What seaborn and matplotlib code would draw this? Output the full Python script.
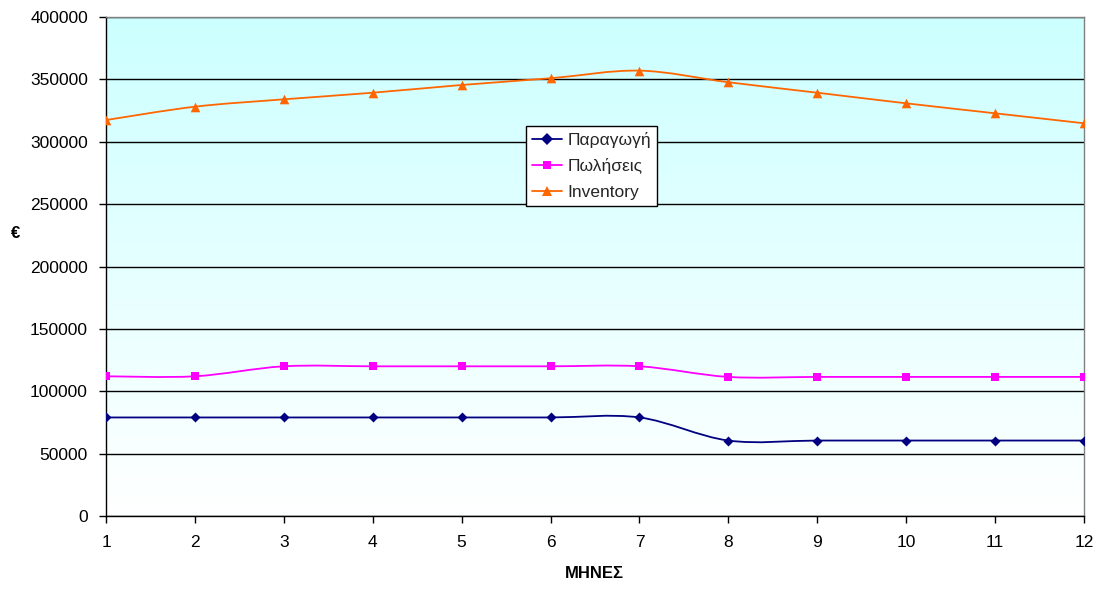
import numpy as np
import matplotlib
matplotlib.use("Agg")
import matplotlib.pyplot as plt
import seaborn as sns
from matplotlib.path import Path
from matplotlib.patches import PathPatch
from matplotlib.lines import Line2D
from matplotlib.colors import LinearSegmentedColormap

# Monthly figures (€)
months = [1, 2, 3, 4, 5, 6, 7, 8, 9, 10, 11, 12]
production = [79000, 79000, 79000, 79000, 79000, 79000, 79000,
              60500, 60500, 60500, 60500, 60500]
sales = [112000, 112000, 120000, 120000, 120000, 120000, 120000,
         111500, 111500, 111500, 111500, 111500]
inventory = [317400, 328100, 334000, 339300, 345500, 350900, 357000,
             347700, 339300, 330800, 322800, 314800]

series_names = ["Παραγωγή", "Πωλήσεις", "Inventory"]
series_colors = ["#000080", "#FF00FF", "#FF6600"]
series_markers = ["D", "s", "^"]
series_sizes = [26, 34, 48]

sns.set_theme(style="white")
plt.rcParams["font.family"] = ["Liberation Sans", "DejaVu Sans"]

fig = plt.figure(figsize=(11.02, 5.9), dpi=100)
ax = fig.add_axes([0.0962, 0.1254, 0.8875, 0.8458])

# vertical gradient fill of the plot area
cmap = LinearSegmentedColormap.from_list("bg", ["#FFFFFF", "#CCFFFF"])
grad = np.linspace(0, 1, 256).reshape(-1, 1)
ax.imshow(grad, cmap=cmap, aspect="auto", extent=(1, 12, 0, 400000),
          origin="lower", zorder=-2)


def smooth_path(xs, ys):
    """Cubic Bezier path through the points (Catmull-Rom style tangents)."""
    pts = np.column_stack([xs, ys]).astype(float)
    n = len(pts)
    verts = [pts[0]]
    codes = [Path.MOVETO]
    for i in range(n - 1):
        p0 = pts[i - 1] if i > 0 else pts[i]
        p1 = pts[i]
        p2 = pts[i + 1]
        p3 = pts[i + 2] if i + 2 < n else pts[i + 1]
        c1 = p1 + (p2 - p0) / 6.0
        c2 = p2 - (p3 - p1) / 6.0
        verts += [c1, c2, p2]
        codes += [Path.CURVE4] * 3
    return Path(verts, codes)


handles = []
for vals, name, col, mk, sz in zip([production, sales, inventory], series_names,
                                   series_colors, series_markers, series_sizes):
    ax.add_patch(PathPatch(smooth_path(months, vals), fill=False,
                           edgecolor=col, lw=1.3, zorder=2))
    sns.scatterplot(x=months, y=vals, marker=mk, color=col, s=sz,
                    edgecolor=col, linewidth=0, ax=ax, zorder=3, legend=False)
    handles.append(Line2D([0], [0], color=col, lw=1.3, marker=mk,
                          markersize=6 if mk != "^" else 7, markeredgewidth=0))

ax.set_xlim(1, 12)
ax.set_ylim(0, 400000)
ax.set_xticks(months)
ax.set_xticklabels([str(m) for m in months])
yt = list(range(0, 400001, 50000))
ax.set_yticks(yt)
ax.set_yticklabels([str(v) for v in yt])

ax.grid(axis="y", color="black", lw=1.0)
ax.grid(axis="x", visible=False)
ax.set_axisbelow(True)

for side in ["left", "bottom"]:
    ax.spines[side].set_color("black")
    ax.spines[side].set_linewidth(1.0)
for side in ["top", "right"]:
    ax.spines[side].set_color("#808080")
    ax.spines[side].set_linewidth(1.0)

ax.tick_params(axis="both", which="major", bottom=True, left=True,
               direction="out", length=5, width=1, color="black",
               labelsize=12.5, labelcolor="black")
ax.tick_params(axis="x", pad=9)
ax.tick_params(axis="y", pad=8)

ax.set_xlabel("ΜΗΝΕΣ", fontsize=12, fontweight="bold", color="black",
              va="center")
ax.xaxis.set_label_coords(0.499, -0.116)
ax.set_ylabel("€", fontsize=12, fontweight="bold", color="black",
              rotation=0, va="center", ha="center")
ax.yaxis.set_label_coords(-0.093, 0.567)

leg = ax.legend(handles, series_names, loc="upper left",
                bbox_to_anchor=(0.4294, 0.7816), fontsize=12.5,
                frameon=True, fancybox=False, framealpha=1,
                edgecolor="black", handlelength=1.75, handletextpad=0.3,
                labelspacing=0.6, borderpad=0.35, borderaxespad=0)
leg.get_frame().set_linewidth(1.0)

fig.savefig("out.png", dpi=100, facecolor="white")
